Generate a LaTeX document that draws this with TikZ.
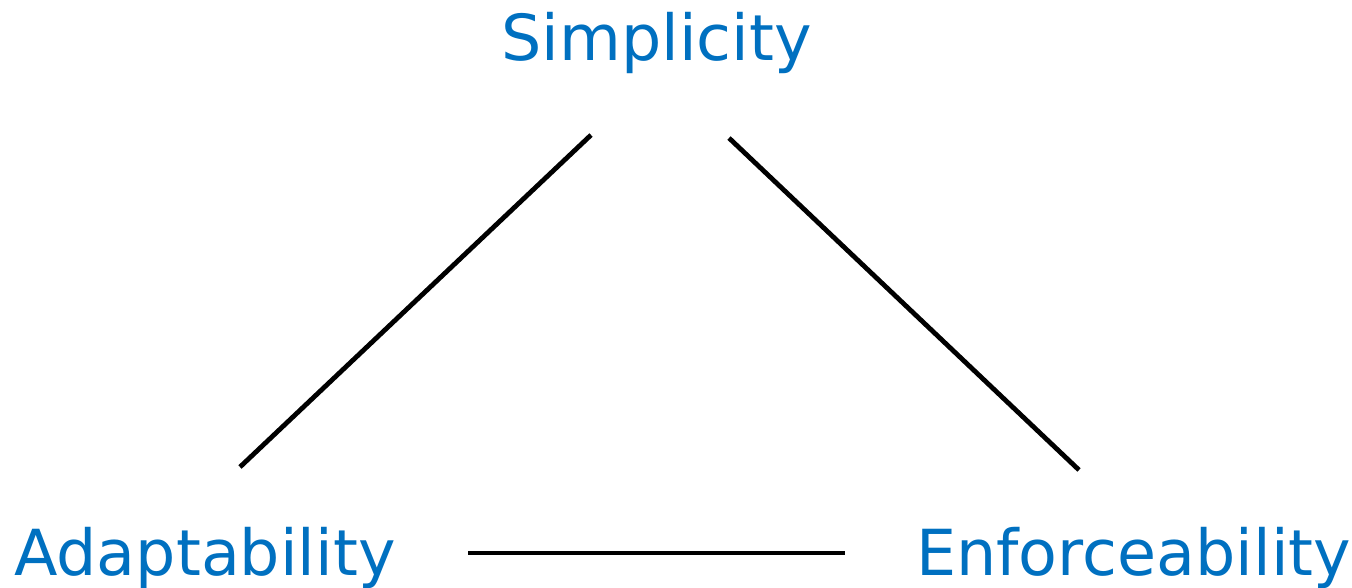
\documentclass[tikz,border=0pt]{standalone}
\usepackage{fontspec}
\setmainfont{DejaVu Sans}
\definecolor{lblue}{HTML}{0070C0}
\begin{document}
\begin{tikzpicture}[x=1pt,y=-1pt,
  lbl/.style={anchor=base west,inner sep=0pt,text=lblue,font=\fontsize{63.5}{70}\selectfont},
  edge/.style={line width=4.8pt,black}]
\useasboundingbox (0,0) rectangle (1352,587);
\node[lbl] (simp) at (501,60) {Simplicity};
\node[lbl] (adap) at (14,575) {Adaptability};
\node[lbl] (enf) at (916,575) {Enforceability};
\coordinate (l1a) at (240,467);
\coordinate (l1b) at (591,135);
\coordinate (l2a) at (729,138);
\coordinate (l2b) at (1079,470);
\coordinate (l3a) at (468,553);
\coordinate (l3b) at (845,553);
\draw[edge] (l1a) -- (l1b);
\draw[edge] (l2a) -- (l2b);
\draw[edge] (l3a) -- (l3b);
\end{tikzpicture}
\end{document}
